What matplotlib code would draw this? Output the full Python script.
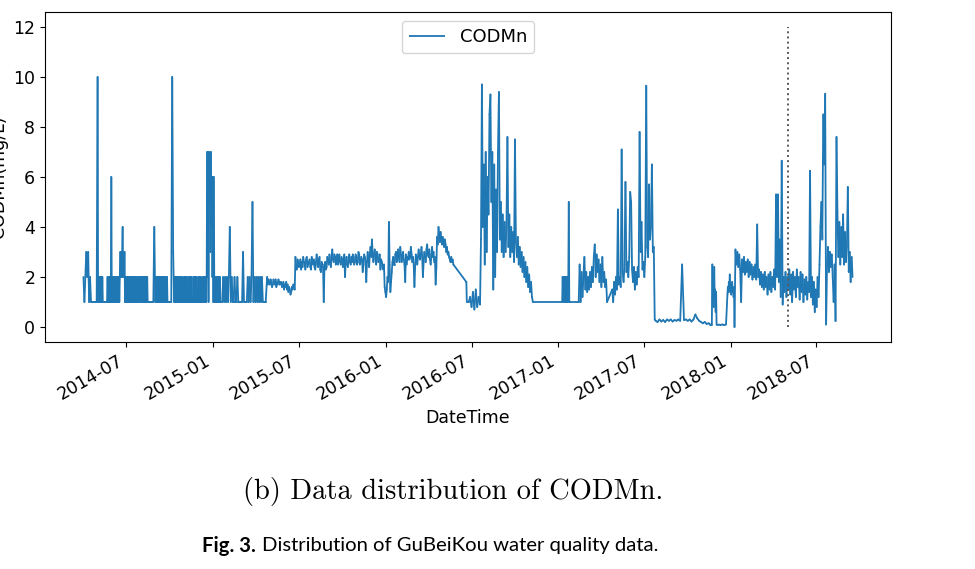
import numpy as np
import pandas as pd
import matplotlib
matplotlib.use('Agg')
import matplotlib.pyplot as plt
import matplotlib.dates as mdates
from matplotlib.collections import LineCollection

# CODMn readings (mg/L).
# each period: first day, spacing between readings, readings

# 2014-04 .. 2015-04: gauge reports integer values (mostly 1 or 2)
start_a1, step_a1 = '2014-04-01', '2D'
codmn_a1 = [2, 1, 2, 3, 2, 3, 1, 2, 1, 1, 1, 1, 1, 1, 1, 10]

start_a2, step_a2 = '2014-05-02', '1D'
codmn_a2 = [1, 2, 1, 2, 1, 2, 1, 2, 1, 2, 1, 1, 1, 1, 1, 1, 1, 1, 1, 1]

start_a3, step_a3 = '2014-05-22', '1D'
codmn_a3 = [2, 1, 2, 1, 2, 1, 2, 1, 6, 1,
            2, 1, 2, 1, 2, 1, 2, 1, 2, 1,
            2, 1, 2, 1, 2, 1, 2, 3, 2, 3,
            2, 3, 4, 2, 3, 2, 3, 1, 2, 1,
            2, 1, 2, 1, 2, 1, 2, 1, 2, 1,
            2, 1, 2, 1, 2, 1, 2, 1, 2, 1,
            2, 1, 2, 1, 1, 2, 1, 2, 1, 2,
            2, 1, 2, 1, 2, 1, 2, 1, 2, 1,
            2, 1, 2, 1, 2, 1]

start_a4, step_a4 = '2014-08-17', '2D'
codmn_a4 = [1, 1, 1, 1, 1, 1, 4, 1]

start_a5, step_a5 = '2014-09-01', '1D'
codmn_a5 = [2, 1, 2, 1, 2, 1, 2, 1, 2, 1,
            2, 1, 2, 1, 2, 1, 2, 1, 2, 1,
            2, 1, 2, 1, 2, 1]

start_a6, step_a6 = '2014-09-28', '2D'
codmn_a6 = [1, 1, 1, 1, 10, 3, 1]

start_a7, step_a7 = '2014-10-11', '1D'
codmn_a7 = [2, 1, 2, 1, 2, 1, 2, 1, 2, 1,
            2, 1, 2, 1, 2, 1, 2, 1, 1, 1,
            2, 1, 2, 1, 2, 1, 2, 1, 1, 1,
            2, 1, 2, 1, 2, 1, 2, 1, 1, 1,
            2, 1, 2, 1, 2, 1, 2, 1, 1, 1,
            2, 1, 2, 1, 2, 1, 2, 1, 1, 1,
            2, 1, 2, 1, 2, 1, 2, 1, 2,
            7, 2, 7, 1, 7, 5, 6, 3, 7, 4,
            6, 2, 6, 1, 6, 2, 1, 2, 1, 2,
            1, 2, 1, 2, 1, 2, 1, 2, 1]

start_a8, step_a8 = '2015-01-18', '2D'
codmn_a8 = [1, 1, 2, 1, 2, 1, 2, 1, 2, 4, 1, 2, 1, 1, 2, 1, 1, 2,
            1, 1, 1, 1, 1, 3, 1, 1, 1, 1, 2, 1, 2, 1, 2, 5, 1, 2,
            1, 2, 1, 2, 1, 2, 1, 2, 1, 1, 1, 1]

# 2015-04 .. 2016-05, continuous sensor
start_b, step_b = '2015-04-25', '36h'
codmn_b = [2.0, 1.7, 1.9, 1.8, 1.7, 1.9, 1.8, 1.6, 1.7, 1.9,
           1.8, 1.7, 1.9, 1.6, 1.8, 1.7, 1.9, 1.8, 1.7, 1.8,
           1.8, 1.6, 1.7, 1.8, 1.5, 1.7, 1.6, 1.8, 1.5, 1.7,
           1.4, 1.6, 1.5, 1.3, 1.4, 1.6, 1.5, 1.7, 1.6, 1.5,
           2.8, 2.4, 2.3, 2.7, 2.6, 2.4, 2.5, 2.7, 2.3, 2.6,
           2.4, 2.8, 2.6, 2.5, 2.3, 2.7, 2.8, 2.4, 2.5, 2.6,
           2.7, 2.4, 2.3, 2.8, 2.6, 2.5, 2.7, 2.4, 2.3, 2.6,
           2.9, 2.5, 2.4, 2.7, 2.8, 2.3, 2.2, 2.6, 2.5, 2.4,
           1.0, 2.5, 2.6, 2.3, 2.4, 2.8, 2.7, 2.5, 2.9, 2.6,
           2.4, 2.8, 3.1, 2.7, 2.6, 2.9, 2.8, 2.5, 2.6, 2.9,
           2.5, 2.8, 2.9, 2.6, 2.5, 2.8, 2.7, 2.4, 2.7, 2.9,
           2.0, 2.6, 2.8, 2.5, 2.4, 2.8, 2.9, 2.6, 2.5, 2.8,
           2.6, 2.9, 2.8, 2.5, 2.6, 2.9, 2.8, 2.5, 2.6, 3.0,
           2.9, 2.5, 2.6, 2.8, 2.7, 2.2, 2.5, 2.9, 2.8, 2.6,
           1.8, 2.6, 3.0, 2.7, 2.4, 2.9, 3.2, 2.8, 3.5, 3.0,
           2.6, 2.9, 3.1, 2.7, 2.5, 3.0, 2.9, 2.6, 2.7, 2.9,
           2.3, 2.7, 2.6, 2.4, 2.3, 2.5, 1.6, 1.4, 1.2, 1.5,
           2.0, 1.8, 4.2, 2.5, 1.4, 1.8, 2.2, 2.6, 2.8, 2.5,
           2.5, 2.9, 3.0, 2.6, 2.7, 3.1, 2.8, 2.6, 3.2, 2.9,
           2.6, 2.8, 3.0, 2.7, 2.5, 1.8, 2.9, 2.5, 2.8, 2.7,
           3.0, 2.7, 2.8, 3.2, 2.9, 2.6, 2.8, 2.5, 1.6, 2.4,
           2.9, 2.7, 2.5, 2.8, 3.1, 2.8, 2.7, 2.9, 3.2, 2.8,
           2.0, 2.6, 3.0, 2.8, 2.6, 3.1, 3.3, 2.9, 2.8, 3.1,
           2.7, 2.5, 2.9, 3.2, 2.8, 3.0, 2.6, 2.8, 1.7, 2.4,
           3.6, 3.3, 4.0, 3.7, 3.4, 3.8, 3.5, 3.3, 3.6, 3.4,
           3.2, 3.5, 3.3, 3.0, 3.2, 2.9, 3.0, 2.8, 2.7, 2.6,
           2.8, 2.6, 2.7, 2.5]

start_c, step_c = '2016-06-20', '1D'
codmn_c = [1.8, 1.0]

# 2016 summer flood
start_d, step_d = '2016-06-25', '3D'
codmn_d = [1.0, 1.2, 0.8, 1.4, 0.7, 1.5, 0.8, 1.2, 0.9]

start_e, step_e = '2016-07-21', '2D'
codmn_e = [3.5, 9.7, 4.0, 6.5, 2.5, 7.0, 3.0, 6.0, 4.5, 8.5,
           9.3, 5.0, 7.0, 1.5, 6.5, 2.0, 5.5, 3.0, 7.0, 9.4,
           3.5, 5.0, 3.0, 4.5, 2.8, 4.2, 3.0, 4.0, 7.6, 3.2,
           4.5, 2.8, 4.0, 3.0, 3.8, 2.6, 7.5, 3.4, 2.8, 3.6,
           2.5, 3.2, 2.4, 3.0, 2.2, 2.8, 2.0, 2.6, 1.8, 2.4,
           1.6, 2.1, 1.4, 1.8, 1.2, 1.0]

start_f, step_f = '2017-01-09', '1D'
codmn_f = [1.0, 2, 1, 2, 1, 2, 1, 2, 1, 2, 1, 2, 1, 2, 5, 1, 1]

start_g, step_g = '2017-02-13', '2D'
codmn_g = [1.0, 2.5, 1.0, 2.2, 1.2, 2.0, 2.8, 1.5, 2.2, 1.4, 2.0,
           1.5, 2.2, 1.6, 2.4, 1.8, 2.8, 3.3, 2.0, 2.9, 2.2,
           2.7, 1.8, 2.5, 1.6, 2.8, 1.8, 2.2, 1.6, 1.9, 1.0]

# 2017-04 .. 2017-07
start_h, step_h = '2017-04-25', '2D'
codmn_h = [1.5, 1.0, 1.8, 1.3, 2.0, 1.5, 4.7, 1.7, 2.0, 1.6,
           7.1, 2.2, 1.8, 2.5, 5.8, 2.2, 2.6, 2.0, 2.8, 5.4,
           5.0, 2.3, 1.8, 2.4, 1.5, 2.2, 1.7, 2.4, 2.0, 7.8,
           3.0, 4.2, 2.3, 2.6, 2.0, 2.8, 9.65, 3.2, 2.8, 5.7,
           3.5, 4.0, 6.5, 3.0, 3.2, 0.3]

# low readings after the 2017 changeover
start_i, step_i = '2017-07-26', '4D'
codmn_i = [0.25, 0.2, 0.3, 0.22, 0.28, 0.2, 0.3, 0.25, 0.3, 0.22,
           0.28, 0.25, 0.3, 0.25, 2.5, 0.28, 0.3, 0.25, 0.3, 0.22,
           0.3, 0.5, 0.35, 0.25, 0.2, 0.15, 0.2, 0.12, 0.15, 0.1]

start_j, step_j = '2017-11-22', '1D'
codmn_j = [0.1, 2.5, 1.0, 1.6, 0.8, 2.4, 1.2, 1.5, 0.6, 1.4, 0.1]

start_k, step_k = '2017-12-06', '4D'
codmn_k = [0.1, 0.08, 0.1, 0.08, 0.1]

start_l, step_l = '2017-12-25', '1D'
codmn_l = [1.3, 1.6, 1.4, 1.8, 1.5, 2.1, 1.4, 1.7, 1.3, 1.6,
           1.8, 1.4, 1.5, 1.2, 1.6, 0.0]

# 2018
start_m, step_m = '2018-01-11', '2D'
codmn_m = [3.1, 2.5, 3.0, 2.4, 2.9, 2.3, 1.0, 2.7, 2.2, 2.8,
           2.1, 2.6, 2.2, 2.7, 2.0, 2.6, 2.1, 2.5, 1.9, 2.4,
           2.0, 2.5, 1.9, 4.1, 2.0, 2.3, 1.7, 2.2, 1.6, 2.1,
           1.5, 2.2, 1.6, 2.0, 1.3, 2.1, 1.5, 2.2, 1.4, 2.0,
           1.6, 2.3, 1.5, 5.3, 2.0, 5.3, 1.8, 3.5, 1.2, 6.65,
           0.9, 2.0, 1.4, 2.2, 1.2, 2.0, 1.5, 2.3, 1.3, 2.1,
           1.0, 2.2, 1.5, 2.0, 1.2, 2.3, 1.6, 2.0, 1.1, 2.2,
           1.4, 2.1, 1.0, 1.9, 1.3, 2.0, 1.1, 1.8, 1.4, 6.25,
           1.2, 2.0, 0.9, 1.8, 0.6, 1.5, 0.8, 2.0, 1.2, 2.5,
           4.0, 5.0, 3.5, 8.5, 6.5, 9.33, 0.1, 2.5, 3.2, 2.2,
           3.0, 2.4, 2.9, 2.0, 1.0, 2.5, 0.24, 7.6, 4.6, 2.8,
           4.2, 2.5, 4.0, 2.8, 4.5, 2.5, 3.8, 2.6, 3.2, 5.6,
           2.2, 3.0, 1.8, 2.8, 2.0]

split_date = '2018-05-03'   # dotted marker
split_top = 12


def build_series():
    periods = [(start_a1, step_a1, codmn_a1), (start_a2, step_a2, codmn_a2),
               (start_a3, step_a3, codmn_a3), (start_a4, step_a4, codmn_a4),
               (start_a5, step_a5, codmn_a5), (start_a6, step_a6, codmn_a6),
               (start_a7, step_a7, codmn_a7), (start_a8, step_a8, codmn_a8),
               (start_b, step_b, codmn_b), (start_c, step_c, codmn_c),
               (start_d, step_d, codmn_d), (start_e, step_e, codmn_e),
               (start_f, step_f, codmn_f), (start_g, step_g, codmn_g),
               (start_h, step_h, codmn_h), (start_i, step_i, codmn_i),
               (start_j, step_j, codmn_j), (start_k, step_k, codmn_k),
               (start_l, step_l, codmn_l), (start_m, step_m, codmn_m)]
    parts = []
    for start, step, vals in periods:
        idx = pd.date_range(start, periods=len(vals), freq=step)
        parts.append(pd.Series(vals, index=idx, dtype=float))
    return pd.concat(parts)


s = build_series()
xs = mdates.date2num(s.index.to_pydatetime())
pts = np.column_stack([xs, s.values])
# one path per step, so the zig-zags don't cancel out when stroked
segs = np.stack([pts[:-1], pts[1:]], axis=1)

fig = plt.figure(figsize=(9.75, 5.69), dpi=100)
ax = fig.add_axes([45 / 975, 1 - 342 / 569, 846 / 975, 330 / 569])

lc = LineCollection(segs, colors='#1f77b4', linewidths=1.3, label='CODMn',
                    capstyle='round')
ax.add_collection(lc)
ax.vlines(mdates.date2num(pd.Timestamp(split_date)), 0, split_top,
          colors='0.35', linestyles=':', lw=1.4)
ax.xaxis_date()
ax.autoscale_view()

ax.xaxis.set_major_locator(mdates.MonthLocator(bymonth=[1, 7]))
ax.xaxis.set_major_formatter(mdates.DateFormatter('%Y-%m'))
ax.tick_params(labelsize=12.5)
plt.setp(ax.get_xticklabels(), rotation=30, ha='right')
ax.set_xlabel('DateTime', fontsize=12.5)
ax.set_ylabel('CODMn(mg/L)', fontsize=12.5)
leg = ax.legend(loc='upper center', fontsize=13)

fig.text(453 / 975, 1 - 492 / 569, '(b) Data distribution of CODMn.',
         family='cmr10', fontsize=20.5, ha='center', va='center')

cap_font = ['Lato', 'DejaVu Sans']
fig.canvas.draw()
r = fig.canvas.get_renderer()
t1 = fig.text(202 / 975, 1 - 546 / 569, 'Fig. 3.', family=cap_font,
              fontweight='bold', fontsize=14.6, va='center')
bb = t1.get_window_extent(renderer=r)
fig.text((bb.x1 + 6) / 975, 1 - 546 / 569,
         'Distribution of GuBeiKou water quality data.',
         family=cap_font, fontsize=14.6, va='center')

fig.savefig('out.png', dpi=100)
